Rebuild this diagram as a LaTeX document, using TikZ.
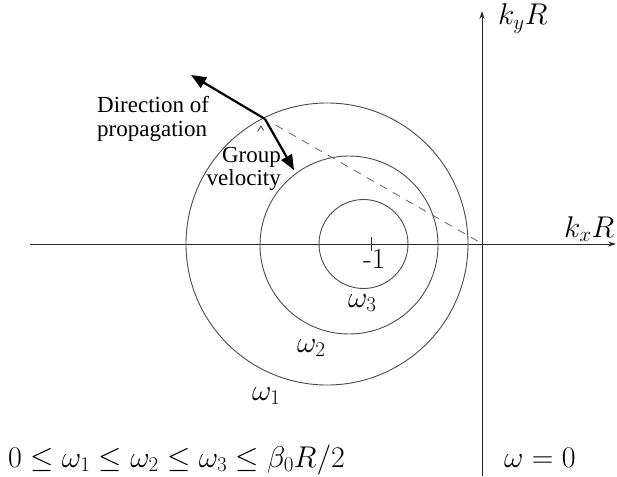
\RequirePackage{fix-cm}
\documentclass[tikz,border=0pt]{standalone}
\usepackage[no-math]{fontspec}
\setmainfont{Liberation Serif}
\newfontfamily\lmfont{Latin Modern Roman}
\usepackage{graphicx}
\usetikzlibrary{arrows.meta,calc}
\newcommand\wm[1]{{\fontsize{30}{34}\selectfont$#1$}}
\tikzset{
  axisline/.style={draw=black!85, line width=0.9pt, -{Stealth[length=8pt,width=5pt]}},
  ring/.style={draw=black!70, line width=0.9pt, circle, inner sep=0pt},
  boldarrow/.style={draw=black, line width=2.2pt, -{Triangle[length=15pt,width=12pt]}},
  dashline/.style={draw=black!60, line width=0.8pt, dash pattern=on 8pt off 7pt},
  serif/.style={font=\fontsize{23}{23.5}\selectfont, inner sep=0pt},
  mathlbl/.style={inner sep=0pt, anchor=base west},
}
\begin{document}
\begin{tikzpicture}[x=1pt,y=-1pt]
\useasboundingbox (0,0) rectangle (617,476);
% axes
\coordinate (xl) at (30,244);
\coordinate (xr) at (616,244);
\coordinate (yb) at (482,476);
\coordinate (yt) at (482,11);
\coordinate (O) at (481,243);
\draw[axisline] (xl) -- (xr);
\draw[axisline] (yb) -- (yt);
% tick at -1
\coordinate (t1) at (371,237);
\coordinate (t2) at (371,251);
\draw[draw=black!80, line width=0.8pt] (t1) -- (t2);
% circles
\node[ring, minimum size=282pt] (c1) at (327,244) {};
\node[ring, minimum size=178pt] (c2) at (349,245) {};
\node[ring, minimum size=89pt] (c3) at (363.5,244) {};
% arrows
\coordinate (P) at (265,119);
\coordinate (D) at (191,75);
\coordinate (G) at (294,170);
\draw[dashline] ($(P)!0.05!(O)$) -- (O);
\draw[boldarrow] (P) -- (D);
\draw[boldarrow] (P) -- (G);
% small mark
\coordinate (m1) at (257.5,131.5);
\coordinate (m2) at (261,126);
\coordinate (m3) at (263.5,130.5);
\draw[draw=black!70, line width=0.9pt] (m1) -- (m2) -- (m3);
% text labels
\node[serif, anchor=north west, align=left] (dir) at (97,96.5) {Direction of\\propagation};
\node[serif, anchor=north east, align=right] (grp) at (281,147) {Group\\velocity};
% math labels
\node[mathlbl] (ky) at (498,25) {\wm{k_yR}};
\node[mathlbl] (kx) at (564,237) {\wm{k_xR}};
\node[mathlbl] (m1l) at (363,268) {{\fontsize{29}{32}\lmfont -1}};
\node[mathlbl] (w3) at (348,307) {\wm{\omega_3}};
\node[mathlbl] (w2) at (297,352) {\wm{\omega_2}};
\node[mathlbl] (w1) at (252,400) {\wm{\omega_1}};
\node[mathlbl] (ineq) at (8,467) {\wm{0\le\omega_1\le\omega_2\le\omega_3\le\beta_0R/2}};
\node[mathlbl] (w0) at (504,467) {\wm{\omega=0}};
\end{tikzpicture}
\end{document}
